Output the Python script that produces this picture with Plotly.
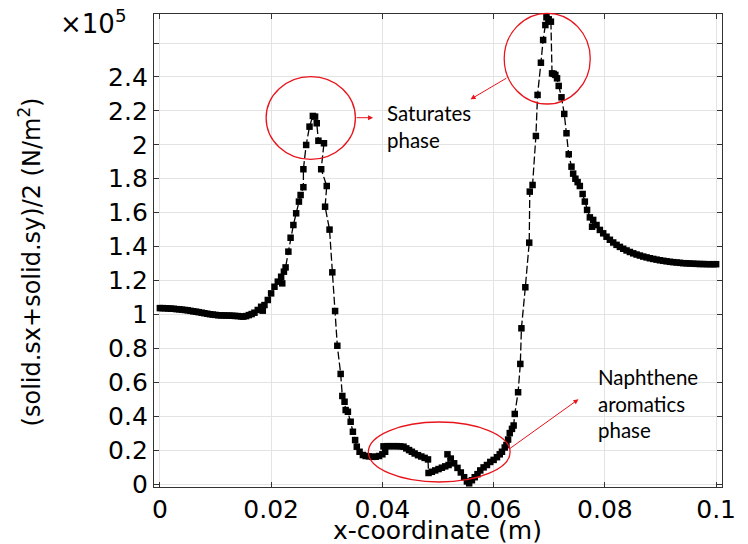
import plotly.graph_objects as go

# ---------------- data (x in m, y in units of 1e5 N/m^2) ----------------
x_coord = [
    0.0000, 0.0005, 0.0010, 0.0015, 0.0020, 0.0025, 0.0030, 0.0035, 0.0040, 0.0045,
    0.0050, 0.0055, 0.0060, 0.0065, 0.0070, 0.0075, 0.0080, 0.0085, 0.0090, 0.0095,
    0.0100, 0.0105, 0.0110, 0.0115, 0.0120, 0.0125, 0.0130, 0.0135, 0.0140, 0.0146,
    0.0150, 0.0155, 0.0160, 0.0165, 0.0170, 0.0176, 0.0182, 0.0185,
    0.0188, 0.0194, 0.0200, 0.0206, 0.0212, 0.0220, 0.0218, 0.0223, 0.0226, 0.0231,
    0.0235, 0.0240, 0.0245, 0.0250, 0.0253, 0.0258, 0.0258, 0.0263, 0.0269, 0.0275,
    0.0279, 0.0282, 0.0285, 0.0295, 0.0290, 0.0300, 0.0297, 0.0305, 0.0310, 0.0315,
    0.0319, 0.0325, 0.0328, 0.0332, 0.0334, 0.0338, 0.0343, 0.0347, 0.0351, 0.0354,
    0.0359, 0.0365, 0.0370, 0.0376, 0.0382, 0.0388, 0.0394, 0.0400, 0.0405, 0.0402,
    0.0408, 0.0414, 0.0420, 0.0426, 0.0432, 0.0438, 0.0443, 0.0448, 0.0453, 0.0458,
    0.0464, 0.0470, 0.0476, 0.0482, 0.0483, 0.0489, 0.0495, 0.0501, 0.0507, 0.0513,
    0.0519, 0.0517, 0.0523, 0.0529, 0.0535, 0.0541, 0.0547, 0.0552, 0.0556, 0.0561,
    0.0566, 0.0571, 0.0576, 0.0582, 0.0588, 0.0594, 0.0600, 0.0606, 0.0611, 0.0615,
    0.0620, 0.0623, 0.0626, 0.0629, 0.0633, 0.0636, 0.0638, 0.0644, 0.0648, 0.0650,
    0.0657, 0.0664, 0.0665, 0.0670, 0.0676, 0.0679, 0.0685, 0.0689, 0.0693, 0.0695,
    0.0699, 0.0703, 0.0705, 0.0708, 0.0711, 0.0714, 0.0717, 0.0722, 0.0727, 0.0731,
    0.0735, 0.0740, 0.0743, 0.0747, 0.0751, 0.0755, 0.0760, 0.0764, 0.0768, 0.0773,
    0.0779, 0.0777, 0.0785, 0.0791, 0.0797, 0.0803, 0.0809, 0.0815, 0.0821, 0.0827,
    0.0833, 0.0839, 0.0845, 0.0851, 0.0857, 0.0863, 0.0869, 0.0875, 0.0881, 0.0887,
    0.0893, 0.0899, 0.0905, 0.0911, 0.0917, 0.0923, 0.0929, 0.0935, 0.0941, 0.0947,
    0.0953, 0.0959, 0.0965, 0.0971, 0.0977, 0.0983, 0.0989, 0.0995, 0.1000,
]
stress = [
    1.037, 1.037, 1.036, 1.035, 1.034, 1.033, 1.031, 1.030, 1.028, 1.026,
    1.024, 1.021, 1.018, 1.016, 1.013, 1.010, 1.007, 1.004, 1.001, 0.999,
    0.997, 0.995, 0.994, 0.994, 0.993, 0.993, 0.992, 0.991, 0.990, 0.988,
    0.987, 0.990, 0.996, 1.002, 1.010, 1.026, 1.045, 1.022,
    1.055, 1.085, 1.124, 1.163, 1.193, 1.183, 1.222, 1.252, 1.277, 1.370,
    1.452, 1.527, 1.596, 1.665, 1.704, 1.750, 1.856, 1.999, 2.107, 2.170,
    2.166, 2.127, 2.024, 2.009, 1.856, 1.757, 1.635, 1.500, 1.248, 1.020,
    0.815, 0.649, 0.519, 0.485, 0.436, 0.426, 0.367, 0.308, 0.259, 0.220,
    0.190, 0.171, 0.165, 0.163, 0.160, 0.161, 0.165, 0.175, 0.190, 0.222,
    0.223, 0.223, 0.223, 0.223, 0.222, 0.220, 0.210, 0.200, 0.190, 0.180,
    0.170, 0.162, 0.154, 0.145, 0.065, 0.072, 0.080, 0.088, 0.096, 0.104,
    0.112, 0.175, 0.150, 0.122, 0.095, 0.068, 0.040, 0.015, 0.004, 0.022,
    0.040, 0.058, 0.080, 0.098, 0.112, 0.130, 0.142, 0.158, 0.175, 0.190,
    0.215, 0.230, 0.262, 0.300, 0.325, 0.345, 0.413, 0.541, 0.708, 0.918,
    1.160, 1.423, 1.724, 1.763, 2.052, 2.294, 2.484, 2.618, 2.706, 2.752,
    2.740, 2.726, 2.421, 2.418, 2.412, 2.392, 2.347, 2.280, 2.182, 2.068,
    1.944, 1.871, 1.830, 1.800, 1.780, 1.757, 1.710, 1.665, 1.616, 1.572,
    1.557, 1.517, 1.527, 1.498, 1.478, 1.458, 1.440, 1.424, 1.410, 1.398,
    1.387, 1.377, 1.368, 1.360, 1.353, 1.347, 1.341, 1.336, 1.331, 1.327,
    1.323, 1.319, 1.316, 1.313, 1.310, 1.308, 1.306, 1.304, 1.302, 1.301,
    1.300, 1.299, 1.298, 1.297, 1.297, 1.296, 1.296, 1.296, 1.296,
]

x_tickvals = [0, 0.02, 0.04, 0.06, 0.08, 0.1]
x_ticktext = ["0", "0.02", "0.04", "0.06", "0.08", "0.1"]
y_tickvals = [0, 0.2, 0.4, 0.6, 0.8, 1.0, 1.2, 1.4, 1.6, 1.8, 2.0, 2.2, 2.4, 2.6]
y_ticktext = ["0", "0.2", "0.4", "0.6", "0.8", "1", "1.2", "1.4", "1.6", "1.8", "2", "2.2", "2.4", ""]

# ---------------- layout geometry ----------------
W, H = 748, 544
ML, MR, MT, MB = 154, 15, 14, 57
PW, PH = W - ML - MR, H - MT - MB


def px(xp):
    return (xp - ML) / PW


def py(yp):
    return (H - MB - yp) / PH


RED = "#e8141b"
AXFONT = "DejaVu Sans"

fig = go.Figure()
fig.add_trace(go.Scatter(
    x=x_coord, y=stress, mode="lines+markers",
    line=dict(color="black", width=1.3, dash="8px,3px"),
    marker=dict(symbol="square", size=6.5, color="black"),
    showlegend=False, hoverinfo="skip",
))

axis_common = dict(
    showgrid=True, gridcolor="#e3e3e3", gridwidth=1,
    showline=True, linecolor="#333333", linewidth=1.3, mirror="ticks",
    ticks="inside", ticklen=5, tickcolor="#333333", tickwidth=1,
    zeroline=False,
    tickfont=dict(family=AXFONT, size=25, color="black"),
)

fig.update_xaxes(range=[-0.001058, 0.101058], tickvals=x_tickvals, ticktext=x_ticktext,
                 **axis_common)
fig.update_yaxes(range=[-0.0177, 2.7712], tickvals=y_tickvals, ticktext=y_ticktext,
                 **axis_common)

fig.update_layout(
    width=W, height=H,
    margin=dict(l=ML, r=MR, t=MT, b=MB, pad=0),
    paper_bgcolor="white", plot_bgcolor="white",
    font=dict(family=AXFONT, color="black"),
)

annotations = [
    dict(text="(solid.sx+solid.sy)/2 (N/m<sup>2</sup>)", xref="paper", yref="paper",
         x=px(28), y=py(262), xanchor="center", yanchor="middle", textangle=-90,
         showarrow=False, font=dict(family=AXFONT, size=24, color="black")),
    dict(text="x-coordinate (m)", xref="paper", yref="paper",
         x=px(443), y=py(530), xanchor="center", yanchor="middle",
         showarrow=False, font=dict(family=AXFONT, size=25, color="black")),
    dict(text="×10<sup>5</sup>", xref="paper", yref="paper",
         x=px(127), y=py(22), xanchor="right", yanchor="middle",
         showarrow=False, font=dict(family=AXFONT, size=26, color="black")),
    dict(text="Saturates<br>phase", xref="paper", yref="paper",
         x=px(389), y=py(126), xanchor="left", yanchor="middle", align="left",
         showarrow=False, font=dict(family="Lato", size=20.5, color="black")),
    dict(text="Naphthene<br>aromatics<br>phase", xref="paper", yref="paper",
         x=px(605), y=py(403), xanchor="left", yanchor="middle", align="left",
         showarrow=False, font=dict(family="Lato", size=20.5, color="black")),
    # arrows (head position, tail offset in pixels)
    dict(text="", xref="paper", yref="paper", x=px(377.3), y=py(117.7),
         ax=-18, ay=0, showarrow=True, arrowhead=2, arrowsize=1, arrowwidth=1,
         arrowcolor=RED, standoff=0),
    dict(text="", xref="paper", yref="paper", x=px(476.7), y=py(99.3),
         ax=37.3, ay=-22, showarrow=True, arrowhead=2, arrowsize=1, arrowwidth=1,
         arrowcolor=RED, standoff=0),
    dict(text="", xref="paper", yref="paper", x=px(586.7), y=py(399.3),
         ax=-70.7, ay=50.7, showarrow=True, arrowhead=2, arrowsize=1, arrowwidth=1,
         arrowcolor=RED, standoff=0),
]
fig.update_layout(annotations=annotations)

shapes = [
    dict(type="circle", xref="paper", yref="paper",
         x0=px(268.3), x1=px(359.3), y0=py(159.3), y1=py(76.7),
         line=dict(color=RED, width=1.3)),
    dict(type="circle", xref="paper", yref="paper",
         x0=px(511), x1=px(598.7), y0=py(104), y1=py(13.3),
         line=dict(color=RED, width=1.3)),
    dict(type="circle", xref="paper", yref="paper",
         x0=px(372.5), x1=px(517), y0=py(482), y1=py(422),
         line=dict(color=RED, width=1.3)),
]
fig.update_layout(shapes=shapes)

fig.write_html("out.html")
